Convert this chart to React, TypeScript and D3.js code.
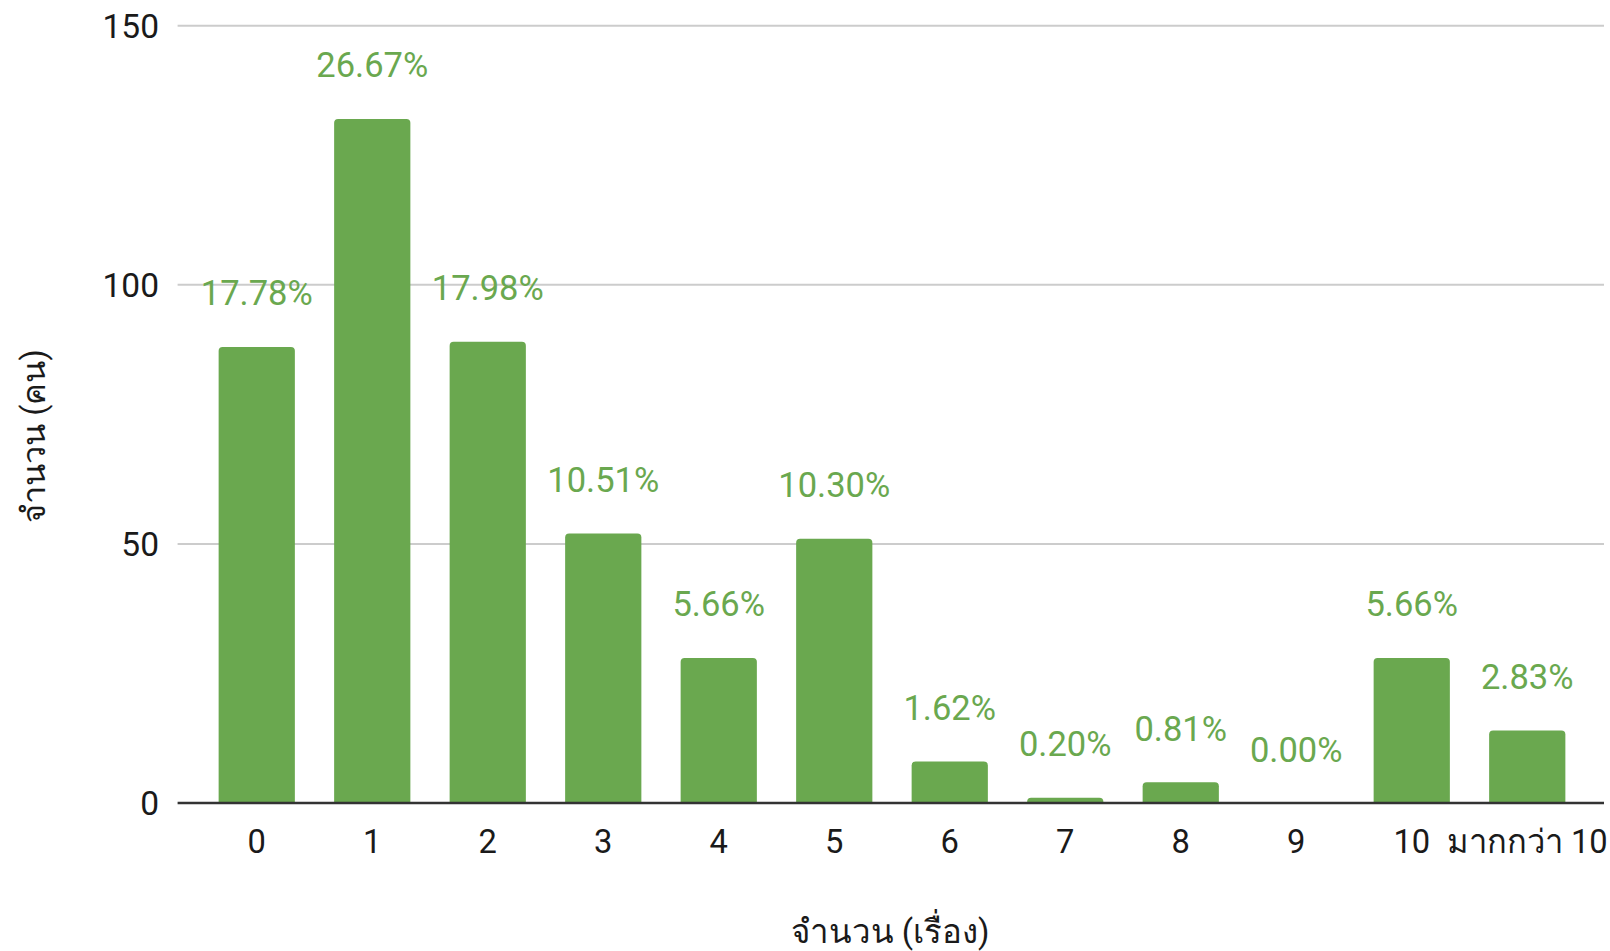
import React from "react";
import * as d3 from "d3";

const categories = ["0", "1", "2", "3", "4", "5", "6", "7", "8", "9", "10", "มากกว่า 10"];
const counts = [88, 132, 89, 52, 28, 51, 8, 1, 4, 0, 28, 14];
const percentLabels = ["17.78%", "26.67%", "17.98%", "10.51%", "5.66%", "10.30%", "1.62%", "0.20%", "0.81%", "0.00%", "5.66%", "2.83%"];
const yTicks = [0, 50, 100, 150];
const xTitle = "จำนวน (เรื่อง)";
const yTitle = "จำนวน (คน)";

const W = 1610;
const H = 951;
const FONT = "Roboto, 'Noto Sans', 'DejaVu Sans', sans-serif";
const GREEN = "#6aa84f";

function topRoundedBar(x: number, y: number, w: number, h: number, r: number) {
  if (h <= 0) return "";
  const rr = Math.min(r, h, w / 2);
  return `M${x},${y + h}V${y + rr}Q${x},${y} ${x + rr},${y}H${x + w - rr}Q${x + w},${y} ${x + w},${y + rr}V${y + h}Z`;
}

export default function App() {
  const plotLeft = 177.6;
  const plotRight = 1604;
  const y = d3.scaleLinear().domain([0, 150]).range([803, 25.7]);
  const x = d3
    .scaleBand<string>()
    .domain(categories)
    .range([199, 1585])
    .paddingInner(0.34)
    .paddingOuter(0.17);

  return (
    <svg
      width={W}
      height={H}
      style={{ position: "absolute", left: 0, top: 0, background: "#fff" }}
      fontFamily={FONT}
    >
      <rect x={0} y={0} width={W} height={H} fill="#fff" />
      {yTicks.map((t) => (
        <g key={t}>
          {t !== 0 && (
            <line x1={plotLeft} x2={plotRight} y1={y(t)} y2={y(t)} stroke="#cccccc" strokeWidth={2} />
          )}
          <text x={159} y={y(t)} dy="0.36em" textAnchor="end" fontSize={33.5} fill="#1a1a1a">
            {t}
          </text>
        </g>
      ))}
      {counts.map((v, i) => {
        const bx = x(categories[i])!;
        const bw = x.bandwidth();
        const top = y(v);
        return (
          <g key={i}>
            <path d={topRoundedBar(bx, top, bw, y(0) - top, 4)} fill={GREEN} />
            <text
              x={bx + bw / 2}
              y={top - 41.5}
              textAnchor="middle"
              fontSize={34.5}
              fill={GREEN}
            >
              {percentLabels[i]}
            </text>
          </g>
        );
      })}
      <line x1={plotLeft} x2={plotRight} y1={y(0)} y2={y(0)} stroke="#333333" strokeWidth={2.5} />
      {categories.map((c) => (
        <text
          key={c}
          x={x(c)! + x.bandwidth() / 2}
          y={852.5}
          textAnchor="middle"
          fontSize={32.7}
          fill="#1a1a1a"
        >
          {c}
        </text>
      ))}
      <text x={890} y={942.5} textAnchor="middle" fontSize={33} fill="#1a1a1a">
        {xTitle}
      </text>
      <text
        transform={`translate(45, 436) rotate(-90)`}
        textAnchor="middle"
        fontSize={32.5}
        fill="#1a1a1a"
      >
        {yTitle}
      </text>
    </svg>
  );
}
